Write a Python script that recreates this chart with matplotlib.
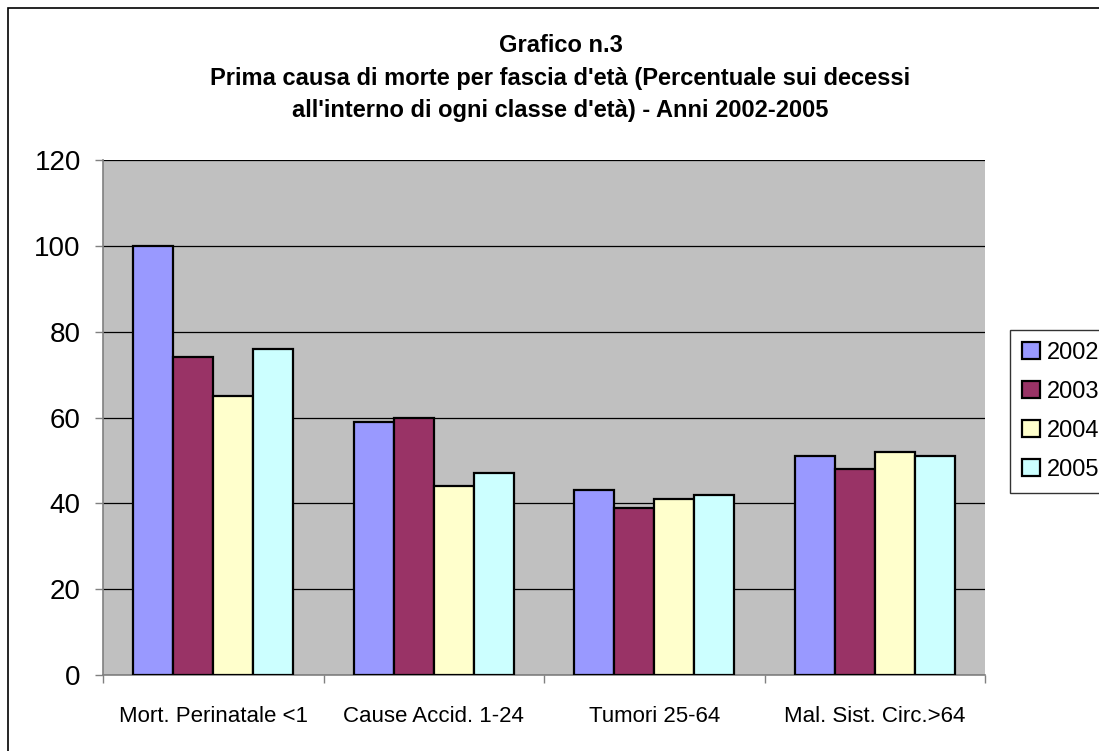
import matplotlib.pyplot as plt
import numpy as np
from matplotlib.patches import Rectangle

categories = ["Mort. Perinatale <1", "Cause Accid. 1-24", "Tumori 25-64", "Mal. Sist. Circ.>64"]
years = ["2002", "2003", "2004", "2005"]
v2002 = [100, 59, 43, 51]
v2003 = [74, 60, 39, 48]
v2004 = [65, 44, 41, 52]
v2005 = [76, 47, 42, 51]
series = [v2002, v2003, v2004, v2005]
colors = ["#9999ff", "#993366", "#ffffcc", "#ccffff"]

plt.rcParams["font.family"] = ["Liberation Sans", "DejaVu Sans"]

fig = plt.figure(figsize=(10.99, 7.51), dpi=100)
fig.patch.set_facecolor("white")
fig.patches.append(Rectangle((8 / 1099, -0.01), 1.1, 1 - 8 / 751 + 0.01,
                             transform=fig.transFigure, fill=False,
                             edgecolor="black", linewidth=1.2))

ax = fig.add_axes([103 / 1099, 1 - 675 / 751, (985 - 103) / 1099, (675 - 160) / 751])
ax.set_facecolor("#c0c0c0")

x = np.arange(len(categories))
w = 1 / 5.5
for i, (vals, col, yr) in enumerate(zip(series, colors, years)):
    ax.bar(x + (i - 1.5) * w, vals, width=w, color=col, edgecolor="black",
           linewidth=1.6, label=yr, zorder=3)

ax.set_xlim(-0.5, len(categories) - 0.5)
ax.set_ylim(0, 120)
ax.set_yticks(range(0, 121, 20))
ax.yaxis.grid(True, color="black", linewidth=0.9, zorder=1)
ax.tick_params(axis="y", labelsize=20, length=6, width=1, color="#808080", pad=10)

ax.set_xticks(np.arange(-0.5, len(categories)), labels=[""] * (len(categories) + 1))
ax.set_xticks(x, labels=categories, minor=True)
ax.tick_params(axis="x", which="major", length=6, width=1, color="#808080")
ax.tick_params(axis="x", which="minor", length=0, labelsize=16, pad=22)

for s in ["top", "right"]:
    ax.spines[s].set_visible(False)
ax.spines["left"].set_color("#808080")
ax.spines["bottom"].set_color("#808080")
ax.spines["left"].set_linewidth(1.2)
ax.spines["bottom"].set_linewidth(1.2)

title_lines = [
    "Grafico n.3",
    "Prima causa di morte per fascia d'età (Percentuale sui decessi",
    "all'interno di ogni classe d'età) - Anni 2002-2005",
]
for line, ypix in zip(title_lines, [45, 78, 110]):
    fig.text(0.51, 1 - ypix / 751, line, ha="center", va="center",
             fontsize=17, fontweight="bold")

leg = fig.legend(loc="upper left", bbox_to_anchor=(1010 / 1099, 1 - 330 / 751),
                 fontsize=17, frameon=True, fancybox=False, handlelength=0.75,
                 handleheight=0.75, handletextpad=0.3, labelspacing=0.72,
                 borderpad=0.5, borderaxespad=0)
leg.get_frame().set_edgecolor("black")
leg.get_frame().set_linewidth(1)

fig.savefig("out.png", dpi=100, facecolor="white")
